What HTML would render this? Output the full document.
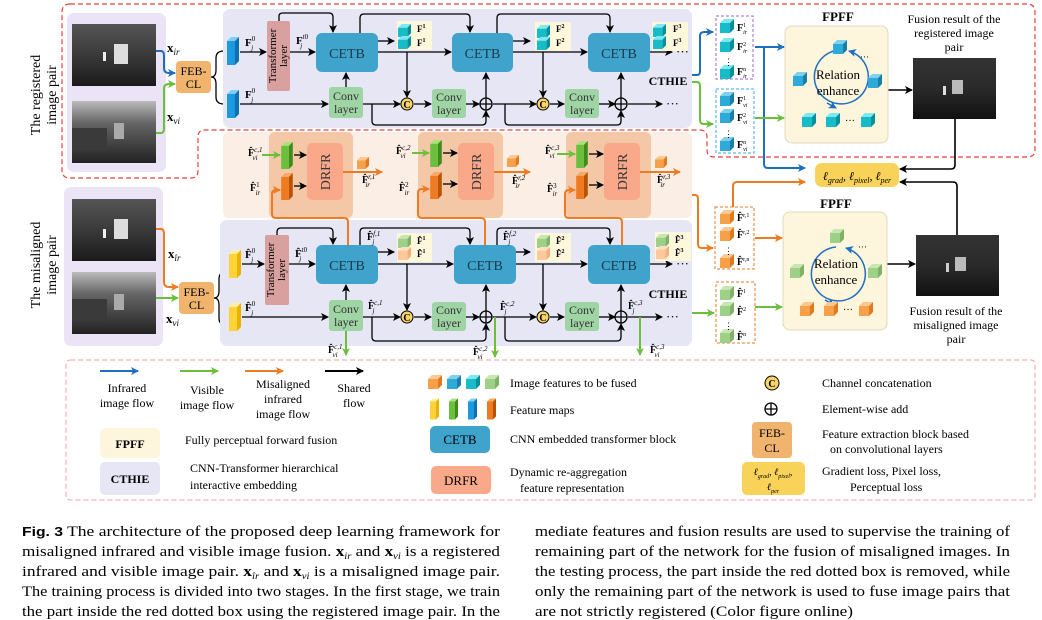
<!DOCTYPE html>
<html><head><meta charset="utf-8"><style>
html,body{margin:0;padding:0;background:#fff;}
svg{display:block;font-family:"Liberation Serif",serif;}
.b{font-weight:bold}
</style></head><body>
<svg width="1042" height="620" viewBox="0 0 1042 620" xmlns="http://www.w3.org/2000/svg">
<defs>
<marker id="ak" markerWidth="8" markerHeight="8" refX="7" refY="4" orient="auto" markerUnits="userSpaceOnUse"><path d="M0,0 L8,4 L0,8 L2,4z" fill="#000"/></marker>
<marker id="ab" markerWidth="8" markerHeight="8" refX="7" refY="4" orient="auto" markerUnits="userSpaceOnUse"><path d="M0,0 L8,4 L0,8 L2,4z" fill="#1f6fc0"/></marker>
<marker id="ag" markerWidth="8" markerHeight="8" refX="7" refY="4" orient="auto" markerUnits="userSpaceOnUse"><path d="M0,0 L8,4 L0,8 L2,4z" fill="#6cbf3c"/></marker>
<marker id="ao" markerWidth="8" markerHeight="8" refX="7" refY="4" orient="auto" markerUnits="userSpaceOnUse"><path d="M0,0 L8,4 L0,8 L2,4z" fill="#ee7a22"/></marker>
<linearGradient id="gir" x1="0" y1="0" x2="0" y2="1"><stop offset="0" stop-color="#555"/><stop offset="0.5" stop-color="#3a3a3a"/><stop offset="1" stop-color="#1a1a1a"/></linearGradient>
<linearGradient id="gvi" x1="0" y1="0" x2="0" y2="1"><stop offset="0" stop-color="#bbb"/><stop offset="0.35" stop-color="#666"/><stop offset="1" stop-color="#222"/></linearGradient>
<linearGradient id="gfu" x1="0" y1="0" x2="0" y2="1"><stop offset="0" stop-color="#333"/><stop offset="0.5" stop-color="#2a2a2a"/><stop offset="1" stop-color="#111"/></linearGradient>
<symbol id="cb" viewBox="0 0 14 14"><path d="M0,4 L4,0 L14,0 L10,4z" fill="#7ee8f0"/><path d="M10,4 L14,0 L14,10 L10,14z" fill="#0a8f9a"/><rect x="0" y="4" width="10" height="10" fill="#16bcc8"/></symbol>
<symbol id="cbb" viewBox="0 0 14 14"><path d="M0,4 L4,0 L14,0 L10,4z" fill="#7fd0ef"/><path d="M10,4 L14,0 L14,10 L10,14z" fill="#1a7fa8"/><rect x="0" y="4" width="10" height="10" fill="#2eaad8"/></symbol>
<symbol id="cg" viewBox="0 0 14 14"><path d="M0,4 L4,0 L14,0 L10,4z" fill="#c8e6b0"/><path d="M10,4 L14,0 L14,10 L10,14z" fill="#7fb266"/><rect x="0" y="4" width="10" height="10" fill="#9fd088"/></symbol>
<symbol id="co" viewBox="0 0 14 14"><path d="M0,4 L4,0 L14,0 L10,4z" fill="#fcc890"/><path d="M10,4 L14,0 L14,10 L10,14z" fill="#e07a20"/><rect x="0" y="4" width="10" height="10" fill="#f6a04a"/></symbol>
<symbol id="col" viewBox="0 0 14 14"><path d="M0,4 L4,0 L14,0 L10,4z" fill="#ffe0c4"/><path d="M10,4 L14,0 L14,10 L10,14z" fill="#f4b07a"/><rect x="0" y="4" width="10" height="10" fill="#ffc89a"/></symbol>
<symbol id="fb" viewBox="0 0 12 28"><path d="M0,4 L4,0 L12,0 L8,4z" fill="#7fcff5"/><path d="M8,4 L12,0 L12,24 L8,28z" fill="#0f6fb0"/><rect x="0" y="4" width="8" height="24" fill="#1c9ae0"/></symbol>
<symbol id="fy" viewBox="0 0 12 28"><path d="M0,4 L4,0 L12,0 L8,4z" fill="#fff0a0"/><path d="M8,4 L12,0 L12,24 L8,28z" fill="#e8b400"/><rect x="0" y="4" width="8" height="24" fill="#ffd23a"/></symbol>
<symbol id="fgr" viewBox="0 0 12 28"><path d="M0,4 L4,0 L12,0 L8,4z" fill="#a8e07a"/><path d="M8,4 L12,0 L12,24 L8,28z" fill="#3d8c1c"/><rect x="0" y="4" width="8" height="24" fill="#6cbf3c"/></symbol>
<symbol id="for" viewBox="0 0 12 28"><path d="M0,4 L4,0 L12,0 L8,4z" fill="#f8a868"/><path d="M8,4 L12,0 L12,24 L8,28z" fill="#b85400"/><rect x="0" y="4" width="8" height="24" fill="#ee7a22"/></symbol>
</defs>

<!-- red dashed training region -->
<path d="M70,4 H1027 Q1035,4 1035,12 V150 Q1035,157 1027,157 H714 Q707,157 707,150 V137 Q707,130 700,130 H205 Q198,130 198,137 V171 Q198,178 191,178 H70 Q62,178 62,170 V12 Q62,4 70,4z" fill="none" stroke="#e84040" stroke-width="1.2" stroke-dasharray="5,3"/>

<!-- left rotated labels -->
<text transform="translate(40,95) rotate(-90)" font-size="14" text-anchor="middle">The registered</text>
<text transform="translate(56,95) rotate(-90)" font-size="14" text-anchor="middle">image pair</text>
<text transform="translate(40,265) rotate(-90)" font-size="14" text-anchor="middle">The misaligned</text>
<text transform="translate(56,265) rotate(-90)" font-size="14" text-anchor="middle">image pair</text>

<!-- image panels -->
<rect x="67" y="13" width="99" height="159" rx="7" fill="#ebe4f6"/>
<rect x="64" y="187" width="99" height="159" rx="7" fill="#ebe4f6"/>
<rect x="72" y="24" width="84" height="62" fill="url(#gir)"/><rect x="114" y="44" width="14" height="20" fill="#ddd"/><rect x="103" y="52" width="3" height="9" fill="#eee"/>
<rect x="72" y="101" width="84" height="62" fill="url(#gvi)"/><rect x="114" y="123" width="10" height="16" fill="#aaa"/><rect x="72" y="128" width="35" height="22" fill="#3a3a3a"/>
<rect x="72" y="199" width="84" height="62" fill="url(#gir)"/><rect x="114" y="219" width="14" height="20" fill="#ddd"/><rect x="103" y="229" width="3" height="9" fill="#eee"/>
<rect x="72" y="272" width="84" height="62" fill="url(#gvi)"/><rect x="114" y="294" width="10" height="16" fill="#aaa"/><rect x="72" y="299" width="35" height="22" fill="#3a3a3a"/>

<!-- x labels -->
<text x="167" y="52" font-size="13" class="b">x<tspan font-size="9" font-style="italic" font-weight="normal" dy="3">ir</tspan></text>
<text x="167" y="121" font-size="13" class="b">x<tspan font-size="9" font-style="italic" font-weight="normal" dy="3">vi</tspan></text>
<text x="168" y="258" font-size="13" class="b">x<tspan font-size="9" font-style="italic" font-weight="normal" dy="3">îr</tspan></text>
<text x="166" y="323" font-size="13" class="b">x<tspan font-size="9" font-style="italic" font-weight="normal" dy="3">vi</tspan></text>

<!-- input flows -->
<path d="M156,51 H161 Q164,51 164,56 V68 Q164,73 169,73 H175" fill="none" stroke="#1f6fc0" stroke-width="2" marker-end="url(#ab)"/>
<path d="M156,133 H161 Q164,133 164,128 V89 Q164,84 169,84 H175" fill="none" stroke="#6cbf3c" stroke-width="2" marker-end="url(#ag)"/>
<path d="M156,229 H161 Q164,229 164,234 V282 Q164,287 169,287 H178" fill="none" stroke="#ee7a22" stroke-width="2" marker-end="url(#ao)"/>
<path d="M156,298 H178" fill="none" stroke="#6cbf3c" stroke-width="2" marker-end="url(#ag)"/>

<!-- FEB-CL -->
<rect x="176" y="61" width="35" height="32" rx="4" fill="#f0b46e"/>
<text x="193.5" y="75" font-size="12" text-anchor="middle">FEB-</text><text x="193.5" y="88" font-size="12" text-anchor="middle">CL</text>
<rect x="179" y="282" width="35" height="32" rx="4" fill="#f0b46e"/>
<text x="196.5" y="296" font-size="12" text-anchor="middle">FEB-</text><text x="196.5" y="309" font-size="12" text-anchor="middle">CL</text>

<!-- braces -->
<path d="M211,77 Q216,77 216,70 V58 Q216,51 224,51 M216,84 V97 Q216,104 224,104 M211,77 Q216,77 216,84" fill="none" stroke="#000" stroke-width="1.3"/>
<path d="M214,298 Q219,298 219,291 V279 Q219,272 226,272 M219,305 V318 Q219,325 226,325 M214,298 Q219,298 219,305" fill="none" stroke="#000" stroke-width="1.3"/>

<!-- CTHIE panels -->
<rect x="223" y="9" width="469" height="119" rx="7" fill="#e6e6f5"/>
<rect x="220" y="220" width="472" height="126" rx="7" fill="#e6e6f5"/>
<!-- DRFR panel -->
<rect x="223" y="132" width="469" height="86" rx="6" fill="#fbeee4"/>
<rect x="269" y="132" width="84" height="86" rx="6" fill="#f4c8a6"/>
<rect x="418" y="132" width="85" height="86" rx="6" fill="#f4c8a6"/>
<rect x="566" y="132" width="85" height="86" rx="6" fill="#f4c8a6"/>

<!-- ===== TOP CTHIE ===== -->
<use href="#fb" x="227" y="37" width="12" height="28"/>
<use href="#fb" x="227" y="90" width="12" height="28"/>
<text x="245" y="46" font-size="11" class="b">F<tspan font-size="7" dy="-5" font-weight="normal">0</tspan><tspan font-size="7" dx="-4" dy="9" font-style="italic" font-weight="normal">j</tspan></text>
<text x="245" y="98" font-size="11" class="b">F<tspan font-size="7" dy="-5" font-weight="normal">0</tspan><tspan font-size="7" dx="-4" dy="9" font-style="italic" font-weight="normal">j</tspan></text>
<line x1="240" y1="52" x2="266" y2="52" stroke="#000" stroke-width="1.3" marker-end="url(#ak)"/>
<rect x="267" y="21" width="23" height="70" rx="2" fill="#d9a0a0"/>
<text transform="translate(276,56) rotate(-90)" font-size="11" text-anchor="middle">Transformer</text>
<text transform="translate(287,56) rotate(-90)" font-size="11" text-anchor="middle">layer</text>
<text x="296" y="44" font-size="11" class="b">F<tspan font-size="7" dy="-5" font-weight="normal">t0</tspan><tspan font-size="7" dx="-8" dy="9" font-style="italic" font-weight="normal">j</tspan></text>
<line x1="290" y1="52" x2="315" y2="52" stroke="#000" stroke-width="1.3" marker-end="url(#ak)"/>
<path d="M279,21 V16 Q279,13 283,13 H329 Q333,13 333,17 V32" fill="none" stroke="#000" stroke-width="1.3" marker-end="url(#ak)"/>

<g font-size="14" text-anchor="middle" fill="#1a3a4a">
<rect x="316" y="33" width="62" height="39" rx="6" fill="#3fa3cc"/><text x="347" y="58">CETB</text>
<rect x="452" y="33" width="61" height="39" rx="6" fill="#3fa3cc"/><text x="482.5" y="58">CETB</text>
<rect x="588" y="33" width="62" height="39" rx="6" fill="#3fa3cc"/><text x="619" y="58">CETB</text>
<rect x="316" y="245" width="62" height="39" rx="6" fill="#3fa3cc"/><text x="347" y="270">CETB</text>
<rect x="454" y="245" width="62" height="39" rx="6" fill="#3fa3cc"/><text x="485" y="270">CETB</text>
<rect x="588" y="245" width="62" height="39" rx="6" fill="#3fa3cc"/><text x="619" y="270">CETB</text>
</g>
<g font-size="12" text-anchor="middle" fill="#333">
<rect x="329" y="87" width="34" height="31" rx="3" fill="#9fd4a4"/><text x="346" y="100">Conv</text><text x="346" y="113">layer</text>
<rect x="432" y="89" width="34" height="29" rx="3" fill="#9fd4a4"/><text x="449" y="101">Conv</text><text x="449" y="114">layer</text>
<rect x="565" y="89" width="34" height="29" rx="3" fill="#9fd4a4"/><text x="582" y="101">Conv</text><text x="582" y="114">layer</text>
<rect x="329" y="300" width="34" height="31" rx="3" fill="#9fd4a4"/><text x="346" y="313">Conv</text><text x="346" y="326">layer</text>
<rect x="432" y="302" width="34" height="29" rx="3" fill="#9fd4a4"/><text x="449" y="314">Conv</text><text x="449" y="327">layer</text>
<rect x="565" y="302" width="34" height="29" rx="3" fill="#9fd4a4"/><text x="582" y="314">Conv</text><text x="582" y="327">layer</text>
</g>

<!-- top row connections -->
<g fill="none" stroke="#000" stroke-width="1.3">
<line x1="240" y1="104" x2="328" y2="104" marker-end="url(#ak)"/>
<line x1="346" y1="87" x2="346" y2="73" marker-end="url(#ak)"/>
<line x1="378" y1="52" x2="451" y2="52" marker-end="url(#ak)"/>
<line x1="378" y1="41" x2="394" y2="41" marker-end="url(#ak)"/>
<line x1="407" y1="52" x2="407" y2="97" marker-end="url(#ak)"/>
<line x1="363" y1="104" x2="400" y2="104" marker-end="url(#ak)"/>
<path d="M372,104 V121 Q372,125 376,125 H482 Q486,125 486,121 V111" marker-end="url(#ak)"/>
<line x1="414" y1="104" x2="431" y2="104" marker-end="url(#ak)"/>
<line x1="466" y1="104" x2="479" y2="104" marker-end="url(#ak)"/>
<line x1="486" y1="98" x2="486" y2="73" marker-end="url(#ak)"/>
<line x1="493" y1="104" x2="536" y2="104" marker-end="url(#ak)"/>
<path d="M360,33 V18 Q360,14 364,14 H466 Q470,14 470,18 V32" marker-end="url(#ak)"/>
<line x1="513" y1="52" x2="587" y2="52" marker-end="url(#ak)"/>
<line x1="513" y1="41" x2="530" y2="41" marker-end="url(#ak)"/>
<line x1="543" y1="52" x2="543" y2="97" marker-end="url(#ak)"/>
<line x1="550" y1="104" x2="564" y2="104" marker-end="url(#ak)"/>
<line x1="599" y1="104" x2="615" y2="104" marker-end="url(#ak)"/>
<line x1="621" y1="98" x2="621" y2="73" marker-end="url(#ak)"/>
<path d="M505,104 V121 Q505,125 509,125 H617 Q621,125 621,121 V111" marker-end="url(#ak)"/>
<path d="M497,33 V18 Q497,14 501,14 H606 Q610,14 610,18 V32" marker-end="url(#ak)"/>
<line x1="650" y1="52" x2="672" y2="52" marker-end="url(#ak)"/>
<line x1="628" y1="104" x2="662" y2="104" marker-end="url(#ak)"/>
</g>
<text x="676" y="56" font-size="13">···</text><text x="666" y="108" font-size="13">···</text>
<text x="668" y="85" font-size="12" class="b" text-anchor="middle">CTHIE</text>

<!-- C / oplus top -->
<g font-size="10" text-anchor="middle" font-weight="bold">
<circle cx="407" cy="104" r="6" fill="#f7d46a" stroke="#000" stroke-width="1"/><text x="407" y="108">C</text>
<circle cx="543" cy="104" r="6" fill="#f7d46a" stroke="#000" stroke-width="1"/><text x="543" y="108">C</text>
<circle cx="407" cy="317" r="6" fill="#f7d46a" stroke="#000" stroke-width="1"/><text x="407" y="321">C</text>
<circle cx="543" cy="317" r="6" fill="#f7d46a" stroke="#000" stroke-width="1"/><text x="543" y="321">C</text>
</g>
<g fill="none" stroke="#000" stroke-width="1.3">
<circle cx="486" cy="104" r="6"/><path d="M480,104 H492 M486,98 V110"/>
<circle cx="621" cy="104" r="6"/><path d="M615,104 H627 M621,98 V110"/>
<circle cx="486" cy="317" r="6"/><path d="M480,317 H492 M486,311 V323"/>
<circle cx="621" cy="317" r="6"/><path d="M615,317 H627 M621,311 V323"/>
</g>

<!-- feature groups top -->
<rect x="397" y="21" width="35" height="29" fill="#fdf7dc"/>
<use href="#cb" x="398" y="24" width="13" height="13"/><use href="#cb" x="398" y="36" width="13" height="13"/>
<text x="417" y="32" font-size="9" class="b">F<tspan font-size="6" dy="-4">1</tspan></text><text x="417" y="46" font-size="9" class="b">F<tspan font-size="6" dy="-4">1</tspan></text>
<rect x="535" y="22" width="36" height="29" fill="#fdf7dc"/>
<use href="#cb" x="537" y="25" width="13" height="13"/><use href="#cb" x="537" y="37" width="13" height="13"/>
<text x="556" y="32" font-size="9" class="b">F<tspan font-size="6" dy="-4">2</tspan></text><text x="556" y="46" font-size="9" class="b">F<tspan font-size="6" dy="-4">2</tspan></text>
<rect x="652" y="22" width="36" height="29" fill="#fdf7dc"/>
<use href="#cb" x="653" y="24" width="13" height="13"/><use href="#cb" x="653" y="36" width="13" height="13"/>
<text x="673" y="32" font-size="9" class="b">F<tspan font-size="6" dy="-4">3</tspan></text><text x="673" y="46" font-size="9" class="b">F<tspan font-size="6" dy="-4">3</tspan></text>

<!-- ===== DRFR row ===== -->
<g font-size="14" text-anchor="middle" fill="#333">
<rect x="307" y="143" width="36" height="57" rx="5" fill="#f9a98a"/><text transform="translate(330,172) rotate(-90)">DRFR</text>
<rect x="458" y="143" width="36" height="57" rx="5" fill="#f9a98a"/><text transform="translate(481,172) rotate(-90)">DRFR</text>
<rect x="604" y="143" width="36" height="57" rx="5" fill="#f9a98a"/><text transform="translate(627,172) rotate(-90)">DRFR</text>
</g>
<use href="#fgr" x="281" y="142" width="12" height="27"/><use href="#for" x="281" y="173" width="12" height="27"/>
<use href="#fgr" x="430" y="140" width="12" height="27"/><use href="#for" x="430" y="172" width="12" height="27"/>
<use href="#fgr" x="576" y="141" width="12" height="27"/><use href="#for" x="576" y="172" width="12" height="27"/>
<g fill="none" stroke-width="1.3">
<line x1="294" y1="155" x2="306" y2="155" stroke="#000" marker-end="url(#ak)"/><line x1="294" y1="186" x2="306" y2="186" stroke="#000" marker-end="url(#ak)"/>
<line x1="443" y1="153" x2="457" y2="153" stroke="#000" marker-end="url(#ak)"/><line x1="443" y1="184" x2="457" y2="184" stroke="#000" marker-end="url(#ak)"/>
<line x1="589" y1="154" x2="603" y2="154" stroke="#000" marker-end="url(#ak)"/><line x1="589" y1="185" x2="603" y2="185" stroke="#000" marker-end="url(#ak)"/>
<line x1="262" y1="155" x2="280" y2="155" stroke="#6cbf3c" stroke-width="2" marker-end="url(#ag)"/>
<line x1="412" y1="153" x2="429" y2="153" stroke="#6cbf3c" stroke-width="2" marker-end="url(#ag)"/>
<line x1="557" y1="154" x2="575" y2="154" stroke="#6cbf3c" stroke-width="2" marker-end="url(#ag)"/>
<line x1="343" y1="172" x2="382" y2="172" stroke="#ee7a22" stroke-width="2" marker-end="url(#ao)"/>
<line x1="494" y1="172" x2="530" y2="172" stroke="#ee7a22" stroke-width="2" marker-end="url(#ao)"/>
<line x1="640" y1="172" x2="680" y2="172" stroke="#ee7a22" stroke-width="2" marker-end="url(#ao)"/>
<path d="M348,245 V222 Q348,218 344,218 H276 Q272,218 272,214 V194 Q272,190 276,190 H280" stroke="#ee7a22" stroke-width="2" marker-end="url(#ao)"/>
<path d="M485,245 V222 Q485,218 481,218 H422 Q418,218 418,214 V193 Q418,189 422,189 H429" stroke="#ee7a22" stroke-width="2" marker-end="url(#ao)"/>
<path d="M622,245 V222 Q622,218 618,218 H569 Q565,218 565,214 V194 Q565,190 569,190 H575" stroke="#ee7a22" stroke-width="2" marker-end="url(#ao)"/>
<path d="M692,195 H695 Q698,195 698,199 V244 Q698,248 702,248 H713" stroke="#ee7a22" stroke-width="2" marker-end="url(#ao)"/>
</g>
<use href="#co" x="357" y="157" width="12" height="12"/><use href="#co" x="507" y="155" width="12" height="12"/><use href="#co" x="655" y="156" width="12" height="12"/>
<g font-size="10" class="b">
<text x="248" y="156">F̂<tspan font-size="7" dy="-4" font-weight="normal" font-style="italic">c,1</tspan><tspan font-size="7" dx="-10" dy="8" font-weight="normal" font-style="italic">vi</tspan></text>
<text x="250" y="191">F̂<tspan font-size="7" dy="-4" font-weight="normal">1</tspan><tspan font-size="7" dx="-4" dy="8" font-weight="normal" font-style="italic">ir</tspan></text>
<text x="362" y="183">F̂<tspan font-size="7" dy="-4" font-weight="normal" font-style="italic">r,1</tspan><tspan font-size="7" dx="-10" dy="8" font-weight="normal" font-style="italic">ir</tspan></text>
<text x="396" y="154">F̂<tspan font-size="7" dy="-4" font-weight="normal" font-style="italic">c,2</tspan><tspan font-size="7" dx="-10" dy="8" font-weight="normal" font-style="italic">vi</tspan></text>
<text x="399" y="191">F̂<tspan font-size="7" dy="-4" font-weight="normal">2</tspan><tspan font-size="7" dx="-4" dy="8" font-weight="normal" font-style="italic">ir</tspan></text>
<text x="512" y="184">F̂<tspan font-size="7" dy="-4" font-weight="normal" font-style="italic">r,2</tspan><tspan font-size="7" dx="-10" dy="8" font-weight="normal" font-style="italic">ir</tspan></text>
<text x="545" y="154">F̂<tspan font-size="7" dy="-4" font-weight="normal" font-style="italic">c,3</tspan><tspan font-size="7" dx="-10" dy="8" font-weight="normal" font-style="italic">vi</tspan></text>
<text x="547" y="192">F̂<tspan font-size="7" dy="-4" font-weight="normal">3</tspan><tspan font-size="7" dx="-4" dy="8" font-weight="normal" font-style="italic">ir</tspan></text>
<text x="657" y="183">F̂<tspan font-size="7" dy="-4" font-weight="normal" font-style="italic">r,3</tspan><tspan font-size="7" dx="-10" dy="8" font-weight="normal" font-style="italic">ir</tspan></text>
</g>

<!-- ===== BOTTOM CTHIE ===== -->
<use href="#fy" x="229" y="250" width="12" height="28"/>
<use href="#fy" x="229" y="303" width="12" height="28"/>
<text x="245" y="258" font-size="11" class="b">F̂<tspan font-size="7" dy="-5" font-weight="normal">0</tspan><tspan font-size="7" dx="-4" dy="9" font-style="italic" font-weight="normal">j</tspan></text>
<text x="245" y="311" font-size="11" class="b">F̂<tspan font-size="7" dy="-5" font-weight="normal">0</tspan><tspan font-size="7" dx="-4" dy="9" font-style="italic" font-weight="normal">j</tspan></text>
<rect x="265" y="235" width="24" height="70" rx="2" fill="#d9a0a0"/>
<text transform="translate(274,270) rotate(-90)" font-size="11" text-anchor="middle">Transformer</text>
<text transform="translate(285,270) rotate(-90)" font-size="11" text-anchor="middle">layer</text>
<text x="295" y="257" font-size="11" class="b">F̂<tspan font-size="7" dy="-5" font-weight="normal">t0</tspan><tspan font-size="7" dx="-8" dy="9" font-style="italic" font-weight="normal">j</tspan></text>
<g fill="none" stroke="#000" stroke-width="1.3">
<line x1="242" y1="264" x2="264" y2="264" marker-end="url(#ak)"/>
<line x1="289" y1="264" x2="315" y2="264" marker-end="url(#ak)"/>
<path d="M277,235 V232 Q277,228 281,228 H329 Q333,228 333,232 V244" marker-end="url(#ak)"/>
<line x1="242" y1="317" x2="328" y2="317" marker-end="url(#ak)"/>
<line x1="346" y1="300" x2="346" y2="285" marker-end="url(#ak)"/>
<line x1="378" y1="264" x2="453" y2="264" marker-end="url(#ak)"/>
<line x1="378" y1="252" x2="394" y2="252" marker-end="url(#ak)"/>
<line x1="407" y1="264" x2="407" y2="310" marker-end="url(#ak)"/>
<line x1="363" y1="317" x2="400" y2="317" marker-end="url(#ak)"/>
<path d="M372,317 V337 Q372,341 376,341 H482 Q486,341 486,337 V324" marker-end="url(#ak)"/>
<line x1="414" y1="317" x2="431" y2="317" marker-end="url(#ak)"/>
<line x1="466" y1="317" x2="479" y2="317" marker-end="url(#ak)"/>
<line x1="486" y1="311" x2="486" y2="285" marker-end="url(#ak)"/>
<line x1="493" y1="317" x2="536" y2="317" marker-end="url(#ak)"/>
<path d="M360,245 V232 Q360,228 364,228 H466 Q470,228 470,232 V244" marker-end="url(#ak)"/>
<line x1="516" y1="264" x2="587" y2="264" marker-end="url(#ak)"/>
<line x1="516" y1="252" x2="530" y2="252" marker-end="url(#ak)"/>
<line x1="543" y1="264" x2="543" y2="310" marker-end="url(#ak)"/>
<line x1="550" y1="317" x2="564" y2="317" marker-end="url(#ak)"/>
<line x1="599" y1="317" x2="615" y2="317" marker-end="url(#ak)"/>
<line x1="621" y1="311" x2="621" y2="285" marker-end="url(#ak)"/>
<path d="M505,317 V337 Q505,341 509,341 H617 Q621,341 621,337 V324" marker-end="url(#ak)"/>
<path d="M497,245 V232 Q497,228 501,228 H606 Q610,228 610,232 V244" marker-end="url(#ak)"/>
<line x1="650" y1="264" x2="672" y2="264" marker-end="url(#ak)"/>
<line x1="628" y1="317" x2="662" y2="317" marker-end="url(#ak)"/>
</g>
<g stroke="#6cbf3c" stroke-width="2" fill="none">
<line x1="346" y1="331" x2="346" y2="355" marker-end="url(#ag)"/>
<line x1="495" y1="317" x2="495" y2="357" marker-end="url(#ag)"/>
<line x1="640" y1="317" x2="640" y2="355" marker-end="url(#ag)"/>
<path d="M692,313 H714" marker-end="url(#ag)"/>
</g>
<text x="676" y="268" font-size="13">···</text><text x="666" y="321" font-size="13">···</text>
<text x="668" y="298" font-size="12" class="b" text-anchor="middle">CTHIE</text>
<g font-size="10" class="b">
<text x="367" y="240">F̂<tspan font-size="7" dy="-4" font-weight="normal" font-style="italic">f,1</tspan><tspan font-size="7" dx="-8" dy="8" font-weight="normal" font-style="italic">j</tspan></text>
<text x="503" y="240">F̂<tspan font-size="7" dy="-4" font-weight="normal" font-style="italic">f,2</tspan><tspan font-size="7" dx="-8" dy="8" font-weight="normal" font-style="italic">j</tspan></text>
<text x="368" y="309">F̂<tspan font-size="7" dy="-4" font-weight="normal" font-style="italic">c,1</tspan><tspan font-size="7" dx="-10" dy="8" font-weight="normal" font-style="italic">j</tspan></text>
<text x="500" y="310">F̂<tspan font-size="7" dy="-4" font-weight="normal" font-style="italic">c,2</tspan><tspan font-size="7" dx="-10" dy="8" font-weight="normal" font-style="italic">j</tspan></text>
<text x="628" y="309">F̂<tspan font-size="7" dy="-4" font-weight="normal" font-style="italic">c,3</tspan><tspan font-size="7" dx="-10" dy="8" font-weight="normal" font-style="italic">j</tspan></text>
<text x="328" y="353">F̂<tspan font-size="7" dy="-4" font-weight="normal" font-style="italic">c,1</tspan><tspan font-size="7" dx="-10" dy="8" font-weight="normal" font-style="italic">vi</tspan></text>
<text x="473" y="355">F̂<tspan font-size="7" dy="-4" font-weight="normal" font-style="italic">c,2</tspan><tspan font-size="7" dx="-10" dy="8" font-weight="normal" font-style="italic">vi</tspan></text>
<text x="650" y="353">F̂<tspan font-size="7" dy="-4" font-weight="normal" font-style="italic">c,3</tspan><tspan font-size="7" dx="-10" dy="8" font-weight="normal" font-style="italic">vi</tspan></text>
</g>
<rect x="397" y="233" width="35" height="29" fill="#fdf7dc"/>
<use href="#cg" x="398" y="235" width="13" height="13"/><use href="#col" x="398" y="247" width="13" height="13"/>
<text x="417" y="244" font-size="9" class="b">F̂<tspan font-size="6" dy="-4">1</tspan></text><text x="417" y="257" font-size="9" class="b">F̂<tspan font-size="6" dy="-4">1</tspan></text>
<rect x="535" y="233" width="36" height="29" fill="#fdf7dc"/>
<use href="#cg" x="537" y="235" width="13" height="13"/><use href="#col" x="537" y="247" width="13" height="13"/>
<text x="556" y="244" font-size="9" class="b">F̂<tspan font-size="6" dy="-4">2</tspan></text><text x="556" y="257" font-size="9" class="b">F̂<tspan font-size="6" dy="-4">2</tspan></text>
<rect x="655" y="232" width="36" height="29" fill="#fdf7dc"/>
<use href="#cg" x="656" y="234" width="13" height="13"/><use href="#col" x="656" y="246" width="13" height="13"/>
<text x="675" y="243" font-size="9" class="b">F̂<tspan font-size="6" dy="-4">3</tspan></text><text x="675" y="256" font-size="9" class="b">F̂<tspan font-size="6" dy="-4">3</tspan></text>

<!-- ===== RIGHT SIDE ===== -->
<g fill="none" stroke-width="2">
<path d="M692,75 H697 Q700,75 700,71 V36 Q700,32 704,32 H713" stroke="#1f6fc0" marker-end="url(#ab)"/>
<path d="M692,82 H697 Q700,82 700,86 V120 Q700,124 704,124 H713" stroke="#6cbf3c" marker-end="url(#ag)"/>
<path d="M755,47 H784" stroke="#1f6fc0" marker-end="url(#ab)"/>
<path d="M764,47 V164 Q764,168 768,168 H805" stroke="#1f6fc0" marker-end="url(#ab)"/>
<path d="M755,118 H784" stroke="#6cbf3c" marker-end="url(#ag)"/>
<path d="M733,207 V186 Q733,182 737,182 H805" stroke="#ee7a22" marker-end="url(#ao)"/>
<path d="M755,238 H782" stroke="#ee7a22" marker-end="url(#ao)"/>
<path d="M755,307 H782" stroke="#6cbf3c" marker-end="url(#ag)"/>
</g>
<g fill="none" stroke="#000" stroke-width="1.6">
<path d="M888,90 H912" marker-end="url(#ak)"/>
<path d="M955,119 V165 Q955,169 951,169 H900" marker-end="url(#ak)"/>
<path d="M887,264 H915" marker-end="url(#ak)"/>
<path d="M957,235 V186 Q957,182 953,182 H900" marker-end="url(#ak)"/>
</g>
<rect x="716" y="16" width="37" height="63" fill="#fff" stroke="#a060d0" stroke-dasharray="3,2"/>
<rect x="716" y="89" width="38" height="64" fill="#fff" stroke="#3aa8e8" stroke-dasharray="3,2"/>
<rect x="715" y="207" width="39" height="62" fill="#fff" stroke="#ee7a22" stroke-dasharray="3,2"/>
<rect x="716" y="282" width="39" height="61" fill="#fff" stroke="#ee7a22" stroke-dasharray="3,2"/>
<use href="#cb" x="720" y="19" width="14" height="14"/><use href="#cb" x="720" y="38" width="14" height="14"/><use href="#cb" x="720" y="65" width="14" height="14"/>
<use href="#cbb" x="720" y="92" width="14" height="14"/><use href="#cbb" x="720" y="109" width="14" height="14"/><use href="#cbb" x="720" y="137" width="14" height="14"/>
<use href="#co" x="720" y="210" width="14" height="14"/><use href="#co" x="720" y="227" width="14" height="14"/><use href="#co" x="720" y="254" width="14" height="14"/>
<use href="#cg" x="720" y="286" width="14" height="14"/><use href="#cg" x="720" y="302" width="14" height="14"/><use href="#cg" x="720" y="329" width="14" height="14"/>
<g font-size="10" class="b">
<text x="737" y="31">F<tspan font-size="6" dy="-4" font-weight="normal">1</tspan><tspan font-size="6" dx="-3" dy="7" font-weight="normal" font-style="italic">ir</tspan></text>
<text x="737" y="50">F<tspan font-size="6" dy="-4" font-weight="normal">2</tspan><tspan font-size="6" dx="-3" dy="7" font-weight="normal" font-style="italic">ir</tspan></text>
<text x="737" y="75">F<tspan font-size="6" dy="-4" font-weight="normal">n</tspan><tspan font-size="6" dx="-3" dy="7" font-weight="normal" font-style="italic">ir</tspan></text>
<text x="737" y="104">F<tspan font-size="6" dy="-4" font-weight="normal">1</tspan><tspan font-size="6" dx="-3" dy="7" font-weight="normal" font-style="italic">vi</tspan></text>
<text x="737" y="121">F<tspan font-size="6" dy="-4" font-weight="normal">2</tspan><tspan font-size="6" dx="-3" dy="7" font-weight="normal" font-style="italic">vi</tspan></text>
<text x="737" y="148">F<tspan font-size="6" dy="-4" font-weight="normal">n</tspan><tspan font-size="6" dx="-3" dy="7" font-weight="normal" font-style="italic">vi</tspan></text>
<text x="737" y="221">F̂<tspan font-size="6" dy="-4" font-weight="normal">r,1</tspan></text>
<text x="737" y="238">F̂<tspan font-size="6" dy="-4" font-weight="normal">r,2</tspan></text>
<text x="737" y="265">F̂<tspan font-size="6" dy="-4" font-weight="normal">r,n</tspan></text>
<text x="737" y="297">F̂<tspan font-size="6" dy="-4" font-weight="normal">1</tspan></text>
<text x="737" y="315">F̂<tspan font-size="6" dy="-4" font-weight="normal">2</tspan></text>
<text x="737" y="340">F̂<tspan font-size="6" dy="-4" font-weight="normal">n</tspan></text>
</g>
<text x="724" y="65" font-size="9">⋮</text><text x="724" y="137" font-size="9">⋮</text><text x="724" y="254" font-size="9">⋮</text><text x="724" y="329" font-size="9">⋮</text>

<!-- FPFF -->
<text x="838" y="21" font-size="13" class="b" text-anchor="middle">FPFF</text>
<rect x="785" y="26" width="103" height="117" rx="7" fill="#fdf5dc" stroke="#e0d8c0"/>
<path d="M839,50 A27,27 0 1 0 849,51" fill="none" stroke="#1f6fc0" stroke-width="1.5" marker-end="url(#ab)"/>
<path d="M836,104 A27,27 0 0 0 830,104" fill="none"/>
<path d="M827,103 L836,108" fill="none" stroke="#1f6fc0" stroke-width="1.5" marker-end="url(#ab)"/>
<text x="838" y="79" font-size="13" text-anchor="middle">Relation</text><text x="838" y="95" font-size="13" text-anchor="middle">enhance</text>
<use href="#cbb" x="833" y="40" width="14" height="14"/><use href="#cbb" x="793" y="72" width="14" height="14"/><use href="#cbb" x="868" y="74" width="14" height="14"/>
<use href="#cb" x="802" y="113" width="14" height="14"/><use href="#cb" x="826" y="113" width="14" height="14"/><use href="#cb" x="861" y="113" width="14" height="14"/>
<text x="845" y="124" font-size="10">···</text><text x="860" y="60" font-size="9">···</text>

<text x="836" y="208" font-size="13" class="b" text-anchor="middle">FPFF</text>
<rect x="783" y="212" width="104" height="118" rx="7" fill="#fdf5dc" stroke="#e0d8c0"/>
<path d="M836,247 A27,27 0 1 0 846,248" fill="none" stroke="#1f6fc0" stroke-width="1.5" marker-end="url(#ab)"/>
<path d="M825,300 L834,305" fill="none" stroke="#1f6fc0" stroke-width="1.5" marker-end="url(#ab)"/>
<text x="836" y="268" font-size="13" text-anchor="middle">Relation</text><text x="836" y="284" font-size="13" text-anchor="middle">enhance</text>
<use href="#cg" x="830" y="229" width="14" height="14"/><use href="#cg" x="790" y="264" width="14" height="14"/><use href="#cg" x="868" y="264" width="14" height="14"/>
<use href="#co" x="800" y="302" width="14" height="14"/><use href="#co" x="824" y="302" width="14" height="14"/><use href="#co" x="859" y="302" width="14" height="14"/>
<text x="843" y="313" font-size="10">···</text><text x="858" y="250" font-size="9">···</text>

<!-- loss -->
<rect x="815" y="163" width="84" height="24" rx="7" fill="#f9d25a"/>
<text x="857" y="180" font-size="12" font-style="italic" text-anchor="middle">ℓ<tspan font-size="8" dy="3">grad</tspan><tspan dy="-3">, ℓ</tspan><tspan font-size="8" dy="3">pixel</tspan><tspan dy="-3">, ℓ</tspan><tspan font-size="8" dy="3">per</tspan></text>

<!-- fusion results -->
<text x="954" y="23" font-size="12" text-anchor="middle">Fusion result of the</text>
<text x="954" y="37" font-size="12" text-anchor="middle">registered image</text>
<text x="954" y="51" font-size="12" text-anchor="middle">pair</text>
<rect x="913" y="58" width="83" height="61" fill="url(#gfu)"/><rect x="952" y="80" width="11" height="14" fill="#bbb"/><rect x="943" y="86" width="3" height="9" fill="#ddd"/>
<rect x="916" y="235" width="83" height="61" fill="url(#gfu)"/><rect x="955" y="257" width="11" height="14" fill="#bbb"/><rect x="946" y="263" width="3" height="9" fill="#ccc"/>
<text x="956" y="315" font-size="12" text-anchor="middle">Fusion result of the</text>
<text x="956" y="329" font-size="12" text-anchor="middle">misaligned image</text>
<text x="956" y="343" font-size="12" text-anchor="middle">pair</text>

<!-- ===== LEGEND ===== -->
<rect x="66" y="360" width="969" height="140" rx="4" fill="none" stroke="#f0a0a0" stroke-dasharray="5,3"/>
<g stroke-width="2" fill="none">
<line x1="100" y1="371" x2="138" y2="371" stroke="#1f6fc0" marker-end="url(#ab)"/>
<line x1="180" y1="371" x2="218" y2="371" stroke="#6cbf3c" marker-end="url(#ag)"/>
<line x1="245" y1="371" x2="283" y2="371" stroke="#ee7a22" marker-end="url(#ao)"/>
<line x1="325" y1="371" x2="363" y2="371" stroke="#000" marker-end="url(#ak)"/>
</g>
<g font-size="12" text-anchor="middle">
<text x="127" y="392">Infrared</text><text x="127" y="407">image flow</text>
<text x="207" y="394">Visible</text><text x="207" y="409">image flow</text>
<text x="283" y="388">Misaligned</text><text x="283" y="403">infrared</text><text x="283" y="418">image flow</text>
<text x="354" y="392">Shared</text><text x="354" y="407">flow</text>
</g>
<use href="#co" x="428" y="375" width="14" height="14"/><use href="#cbb" x="447" y="375" width="14" height="14"/><use href="#cb" x="466" y="375" width="14" height="14"/><use href="#cg" x="485" y="375" width="14" height="14"/>
<use href="#fy" x="430" y="398" width="9" height="22"/><use href="#fgr" x="449" y="398" width="9" height="22"/><use href="#fb" x="468" y="398" width="9" height="22"/><use href="#for" x="487" y="398" width="9" height="22"/>
<g font-size="12">
<text x="510" y="387">Image features to be fused</text>
<text x="510" y="414">Feature maps</text>
<text x="510" y="443">CNN embedded transformer block</text>
<text x="510" y="476">Dynamic re-aggregation</text><text x="520" y="492">feature representation</text>
<text x="185" y="444">Fully perceptual forward fusion</text>
<text x="190" y="472">CNN-Transformer hierarchical</text><text x="190" y="489">interactive embedding</text>
<text x="822" y="387">Channel concatenation</text>
<text x="822" y="413">Element-wise add</text>
<text x="822" y="438">Feature extraction block based</text><text x="830" y="453">on convolutional layers</text>
<text x="822" y="475">Gradient loss, Pixel loss,</text><text x="850" y="491">Perceptual loss</text>
</g>
<circle cx="772" cy="383" r="7" fill="#f7d46a" stroke="#000"/><text x="772" y="387" font-size="10" class="b" text-anchor="middle">C</text>
<circle cx="771" cy="409" r="6" fill="none" stroke="#000" stroke-width="1.3"/><path d="M765,409 H777 M771,403 V415" stroke="#000" stroke-width="1.3"/>
<rect x="100" y="428" width="60" height="30" rx="5" fill="#fdf5dc"/><text x="130" y="448" font-size="12" class="b" text-anchor="middle">FPFF</text>
<rect x="100" y="462" width="60" height="33" rx="5" fill="#e6e6f5"/><text x="130" y="483" font-size="12" class="b" text-anchor="middle">CTHIE</text>
<rect x="430" y="426" width="60" height="27" rx="5" fill="#3fa3cc"/><text x="460" y="444" font-size="13" text-anchor="middle">CETB</text>
<rect x="431" y="466" width="60" height="28" rx="5" fill="#f9a98a"/><text x="461" y="485" font-size="13" text-anchor="middle">DRFR</text>
<rect x="752" y="422" width="40" height="36" rx="4" fill="#f0b46e"/><text x="772" y="437" font-size="12" text-anchor="middle">FEB-</text><text x="772" y="452" font-size="12" text-anchor="middle">CL</text>
<rect x="742" y="462" width="63" height="33" rx="5" fill="#f9d25a"/>
<text x="773" y="475" font-size="10" font-style="italic" text-anchor="middle">ℓ<tspan font-size="6" dy="3">grad</tspan><tspan dy="-3">, ℓ</tspan><tspan font-size="6" dy="3">pixel</tspan><tspan dy="-3">,</tspan></text>
<text x="773" y="490" font-size="10" font-style="italic" text-anchor="middle">ℓ<tspan font-size="6" dy="3">per</tspan></text>

<!-- ===== CAPTION ===== -->
<g font-size="14.5">
<text x="22" y="536" textLength="478" lengthAdjust="spacingAndGlyphs"><tspan font-family="Liberation Sans" font-weight="bold" font-size="13">Fig. 3</tspan>  The architecture of the proposed deep learning framework for</text>
<text x="22" y="556" textLength="478" lengthAdjust="spacingAndGlyphs">misaligned infrared and visible image fusion. <tspan font-weight="bold">x</tspan><tspan font-size="9" font-style="italic" dy="3">ir</tspan><tspan dy="-3"> and </tspan><tspan font-weight="bold">x</tspan><tspan font-size="9" font-style="italic" dy="3">vi</tspan><tspan dy="-3"> is a registered</tspan></text>
<text x="22" y="576" textLength="478" lengthAdjust="spacingAndGlyphs">infrared and visible image pair. <tspan font-weight="bold">x</tspan><tspan font-size="9" font-style="italic" dy="3">îr</tspan><tspan dy="-3"> and </tspan><tspan font-weight="bold">x</tspan><tspan font-size="9" font-style="italic" dy="3">vi</tspan><tspan dy="-3"> is a misaligned image pair.</tspan></text>
<text x="22" y="596" textLength="478" lengthAdjust="spacingAndGlyphs">The training process is divided into two stages. In the first stage, we train</text>
<text x="22" y="616" textLength="478" lengthAdjust="spacingAndGlyphs">the part inside the red dotted box using the registered image pair. In the</text>
<text x="535" y="536" textLength="475" lengthAdjust="spacingAndGlyphs">mediate features and fusion results are used to supervise the training of</text>
<text x="535" y="556" textLength="475" lengthAdjust="spacingAndGlyphs">remaining part of the network for the fusion of misaligned images. In</text>
<text x="535" y="576" textLength="475" lengthAdjust="spacingAndGlyphs">the testing process, the part inside the red dotted box is removed, while</text>
<text x="535" y="596" textLength="475" lengthAdjust="spacingAndGlyphs">only the remaining part of the network is used to fuse image pairs that</text>
<text x="535" y="616" textLength="318" lengthAdjust="spacingAndGlyphs">are not strictly registered (Color figure online)</text>
</g>
</svg>
</body></html>
